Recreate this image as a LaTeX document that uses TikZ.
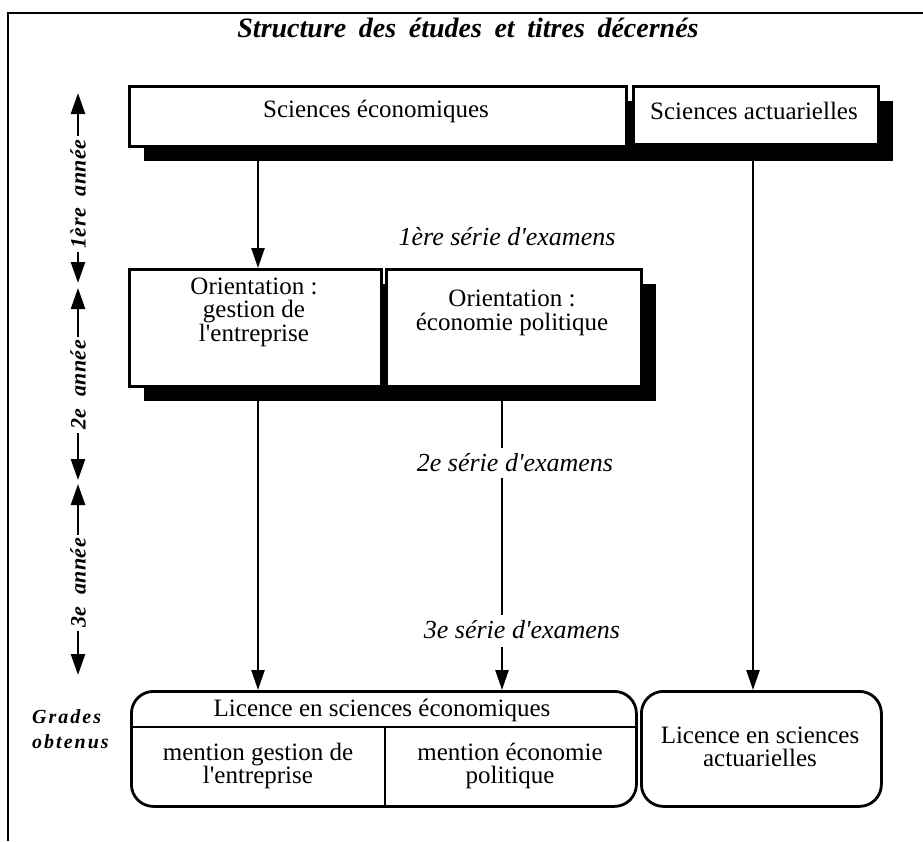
\documentclass[tikz,border=0pt]{standalone}
\usepackage{fontspec}
\setmainfont{Liberation Serif}
\newfontfamily\apfont[Ligatures=TeXOff]{Liberation Serif}
\newcommand\apos{{\apfont\char"27}}
\newfontfamily\titlefont[WordSpace=1.8]{Liberation Serif}
\newfontfamily\axfont[LetterSpace=2,WordSpace=2]{Liberation Serif}
\newfontfamily\grfont[LetterSpace=10]{Liberation Serif}
\usetikzlibrary{arrows.meta}
\begin{document}
\begin{tikzpicture}[x=1pt,y=-1pt,
  box/.style={draw, line width=2.8pt, fill=white, inner sep=0pt, anchor=north west},
  lbox/.style={draw, line width=2.8pt, fill=white, inner sep=0pt, anchor=north west, rounded corners=22pt},
  txt/.style={font=\fontsize{25}{23.5}\selectfont, align=center, inner sep=1pt},
  ex/.style={font=\itshape\fontsize{26}{26}\selectfont, inner sep=2pt},
  axl/.style={font=\axfont\bfseries\itshape\fontsize{22}{22}\selectfont, rotate=90, inner sep=3pt},
  grl/.style={font=\grfont\bfseries\itshape\fontsize{20}{25}\selectfont, align=left, inner sep=0pt, anchor=west},
  ttl/.style={font=\titlefont\bfseries\itshape\fontsize{28}{28}\selectfont, inner sep=0pt},
  arr/.style={line width=2.5pt, -{Triangle[length=20pt,width=13pt]}},
  axarr/.style={line width=2.5pt, -{Triangle[length=21pt,width=14pt]}},
  ln/.style={line width=2.5pt}]
\useasboundingbox (0,0) rectangle (923,841);
\fill[white] (0,0) rectangle (923,841);
% frame
\draw[line width=2pt] (7,13) -- (923,13);
\draw[line width=2pt] (8,13) -- (8,841);
% title
\node[ttl] (title) at (468,28) {Structure des études et titres décernés};
% shadows
\fill (144,101) rectangle (893,161);
\fill (144,284) rectangle (656,401);
% top boxes
\node[box, minimum width=497pt, minimum height=60pt] (eco) at (128,85) {};
\node[box, minimum width=245pt, minimum height=58pt] (act) at (632,85) {};
\node[txt] (ecoT) at (376,111) {Sciences économiques};
\node[txt] (actT) at (754,111) {Sciences actuarielles};
% orientation boxes
\node[box, minimum width=252pt, minimum height=117pt] (or1) at (128,268) {};
\node[box, minimum width=255pt, minimum height=117pt] (or2) at (385,268) {};
\node[txt] (or1T) at (254,312) {Orientation :\\gestion de\\l\apos entreprise};
\node[txt] (or2T) at (512,313) {Orientation :\\économie politique};
% licence boxes
\node[lbox, minimum width=505pt, minimum height=115pt] (lic) at (130,690) {};
\node[lbox, minimum width=240pt, minimum height=115pt] (lica) at (640,690) {};
\coordinate (divL) at (130,727);
\coordinate (divR) at (635,727);
\coordinate (midT) at (385,727);
\draw[line width=2.5pt] (divL) -- (divR);
\draw[line width=2.5pt] (midT) -- (midT |- lic.south);
\node[txt] (licT) at (382,710) {Licence en sciences économiques};
\node[txt] (m1T) at (258,766) {mention gestion de\\l\apos entreprise};
\node[txt] (m2T) at (510,766) {mention économie\\politique};
\node[txt] (laT) at (760,747) {Licence en sciences\\actuarielles};
% exam labels
\node[ex] (ex1) at (507,237) {1ère série d\apos examens};
\node[ex] (ex2) at (515,463) {2e série d\apos examens};
\node[ex] (ex3) at (522,630) {3e série d\apos examens};
% connectors
\coordinate (a1) at (258,268);
\coordinate (a2) at (502,385);
\coordinate (a3) at (753,145);
\draw[arr] (a1 |- eco.south) -- (a1);
\draw[arr] (a1 |- or1.south) -- (a1 |- lic.north);
\draw[arr] (a3) -- (a3 |- lica.north);
\draw[ln] (a2) -- ([yshift=4pt]a2 |- ex2.north);
\draw[ln] ([yshift=-4pt]a2 |- ex2.south) -- ([yshift=4pt]a2 |- ex3.north);
\draw[arr] ([yshift=-6pt]a2 |- ex3.south) -- (a2 |- lic.north);
% year axis
\coordinate (t1) at (78,93);
\coordinate (b1) at (78,283);
\coordinate (t2) at (78,288);
\coordinate (b2) at (78,480);
\coordinate (t3) at (78,484);
\coordinate (b3) at (78,675);
\node[axl] (y1) at (78,194) {1ère année};
\node[axl] (y2) at (78,385) {2e année};
\node[axl] (y3) at (78,583) {3e année};
\draw[axarr] (y1.east) -- (t1);
\draw[axarr] (y1.west) -- (b1);
\draw[axarr] (y2.east) -- (t2);
\draw[axarr] (y2.west) -- (b2);
\draw[axarr] (y3.east) -- (t3);
\draw[axarr] (y3.west) -- (b3);
% grades
\node[grl] (gr) at (32,729) {Grades\\obtenus};
\end{tikzpicture}
\end{document}
